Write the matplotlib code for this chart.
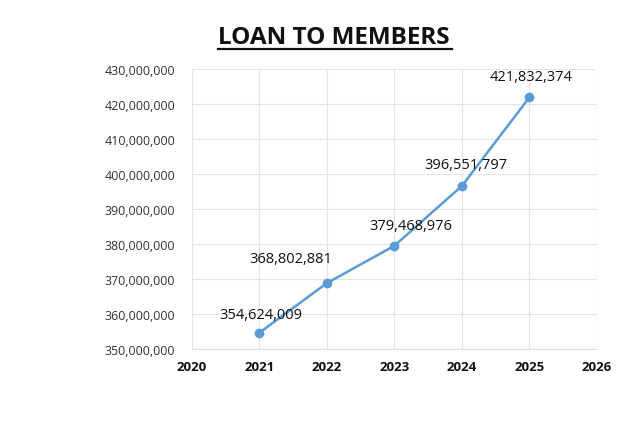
import matplotlib.pyplot as plt
from matplotlib.ticker import FuncFormatter

years = [2021, 2022, 2023, 2024, 2025]
loans = [354624009, 368802881, 379468976, 396551797, 421832374]
label_offsets = [(1, 8), (-26, 12), (12, 9), (3, 10), (1, 10)]

fig = plt.figure(figsize=(6.33, 4.31), dpi=100)
ax = fig.add_axes([0.303, 0.188, 0.640, 0.650])

ax.plot(years, loans, color="#5b9bd5", linewidth=1.8,
        marker="o", markersize=6, markerfacecolor="#5b9bd5",
        markeredgecolor="#5b9bd5", zorder=3)

for x, y, off in zip(years, loans, label_offsets):
    ax.annotate(f"{y:,}", (x, y), xytext=off, textcoords="offset points",
                ha="center", va="bottom", fontsize=10.5, color="#111111",
                family="Open Sans")

ax.set_xlim(2020, 2026)
ax.set_ylim(350000000, 430000000)
ax.set_xticks(range(2020, 2027))
ax.set_yticks(range(350000000, 430000001, 10000000))
ax.yaxis.set_major_formatter(FuncFormatter(lambda v, p: f"{int(v):,}"))

for lbl in ax.get_xticklabels():
    lbl.set_fontweight("bold")
    lbl.set_family("Open Sans")
    lbl.set_fontsize(9.5)
    lbl.set_color("#111111")
for lbl in ax.get_yticklabels():
    lbl.set_family("Open Sans")
    lbl.set_fontsize(9)
    lbl.set_color("#333333")

ax.tick_params(length=0, pad=8)
ax.tick_params(axis="y", pad=12)
ax.grid(True, color="#e4e4e4", linewidth=0.8)
for s in ax.spines.values():
    s.set_visible(False)
ax.spines["bottom"].set_visible(True)
ax.spines["bottom"].set_color("#dddddd")

fig.text(0.528, 0.911, "LOAN TO MEMBERS", ha="center", va="center",
         fontsize=17.5, fontweight="bold", family="Open Sans", color="#111111")
fig.add_artist(plt.Line2D([0.345, 0.714], [0.884, 0.884], color="#111111",
                          linewidth=1.6, transform=fig.transFigure))

fig.savefig("out.png", dpi=100)
